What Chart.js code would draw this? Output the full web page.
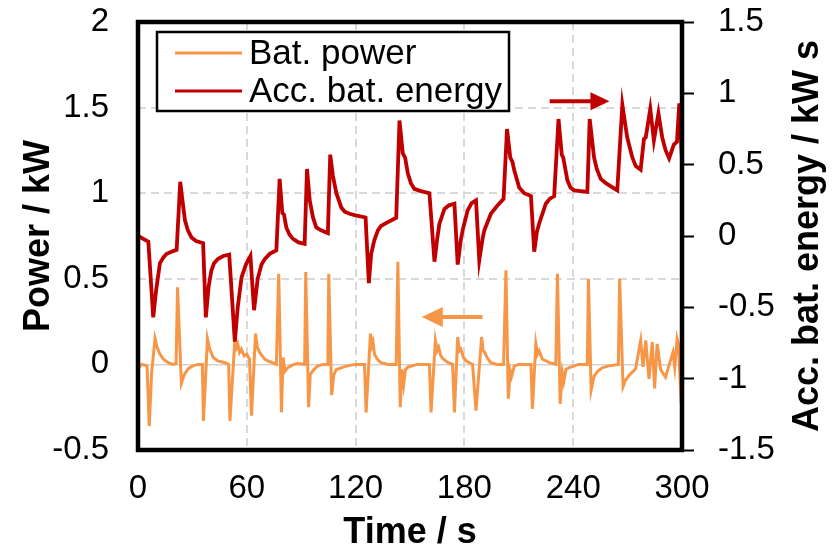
<!DOCTYPE html>
<html>
<head>
<meta charset="utf-8">
<script src="https://cdn.jsdelivr.net/npm/chart.js@4/dist/chart.umd.min.js"></script>
<style>
  html, body { margin: 0; padding: 0; background: #fff; }
  #wrap { width: 832px; height: 555px; position: relative; }
</style>
</head>
<body>
<div id="wrap"><canvas id="c"></canvas></div>
<script>
// ---- Data ----
const seriesNames = ['Bat. power', 'Acc. bat. energy'];
const xTickValues = [0, 60, 120, 180, 240, 300];

const powerTime = [0, 1, 2, 4, 5, 6.2, 7.5, 9.4, 10.5, 12.1, 14, 16.7, 19, 21, 21.8, 23.9, 25.5, 27.7, 30, 33, 35.5,
  36.1, 38.3, 39.5, 41.5, 44, 48, 50, 50.7, 53.4, 54.3, 55, 56, 57, 58.5, 60, 61.5, 62.6, 64.8, 65.8, 67.1, 68.5, 70, 71.7, 74, 76.3,
  77.6, 79.1, 80, 81, 82.5, 84, 86, 88, 91.9, 92.5, 94.1, 95, 95.6, 97, 99, 102, 104.7, 105.2, 106.8, 108, 109.4, 112, 115, 120, 124.9,
  125.8, 128.2, 129, 129.6, 130.4, 132, 134, 138, 142.4, 143.3, 144.6, 145.5, 146.5, 147.5, 149, 154, 160.7,
  161.6, 164, 165, 165.8, 167, 168.5, 171, 173.5, 174.5, 176.3, 177.2, 178, 179.5, 181, 184.5, 186.4, 189.5, 190.3, 191.2, 192.5, 194.5, 198, 201.6,
  202.9, 204.2, 205.3, 206, 207.5, 210, 216.7, 217.5, 219.4, 220.3, 221.2, 223, 227, 230.4, 231.3, 232.8, 234, 234.8, 236, 237.5, 243, 247.8,
  248.4, 249.9, 251.5, 253.5, 256, 259, 264.9, 265.6, 267.5, 269, 270.8, 274.4, 277.2, 278.5, 280, 281.8, 283.6, 284.9, 286.3, 288.2, 290.9,
  293.7, 295, 296, 297.3, 298, 299.2, 300];
const powerValues = [0, -0.01, 0, -0.005, -0.01, -0.36, -0.05, 0.15, 0.10, 0.06, 0.03, 0.01, 0, 0.005, 0.45, -0.11, -0.06, -0.025, -0.01, 0, 0,
  -0.33, 0.15, 0.09, 0.04, 0.02, 0.01, 0, -0.33, 0.14, 0.10, 0.12, 0.07, 0.09, 0.05, 0.06, 0.03, -0.30, 0.18, 0.10, 0.07, 0.05, 0.03, 0.02, 0.01, 0,
  0.53, -0.28, 0.04, -0.04, -0.02, -0.01, 0, 0.005, 0, 0.54, -0.25, -0.06, -0.05, -0.03, -0.01, 0, 0, 0.53, -0.18, -0.06, -0.03, -0.02, -0.01, 0, 0,
  -0.28, 0.18, 0.11, 0.13, 0.06, 0.03, 0.01, 0, 0, 0.60, -0.25, -0.03, -0.12, -0.03, -0.015, 0, 0,
  -0.28, 0.14, 0.08, 0.10, 0.05, 0.03, 0.01, 0, -0.28, 0.16, 0.08, 0.09, 0.04, 0.02, 0, -0.27, 0.16, 0.08, 0.07, 0.04, 0.01, 0, 0,
  0.55, -0.20, -0.04, -0.07, -0.01, 0, 0, -0.26, 0.12, 0.06, 0.08, 0.03, 0.01, 0, 0.53, -0.23, -0.05, -0.10, -0.03, -0.02, 0, 0,
  0.50, -0.15, -0.07, -0.04, -0.02, -0.01, 0, 0.50, -0.13, -0.09, -0.065, -0.025, 0.14, -0.015, 0.14, -0.085, 0.13, -0.14, 0.12, -0.03, -0.075,
  0.025, 0.07, -0.015, 0.15, 0.12, -0.15, -0.10];

const energyTime = [0, 5.7, 8.4, 10, 12.1, 14, 15.8, 18.5, 21.3, 23.3, 24.5, 25.9, 27.5, 29.5, 32, 35.9,
  37.4, 39, 40.5, 42, 44.2, 47, 50.3, 53.4, 55, 57.1, 59.5, 62, 64, 66, 68.1, 70, 72.6, 76.3,
  78.1, 79.6, 80.5, 81.8, 83.5, 85.5, 88.5, 91.9, 93.2, 94.7, 96.5, 98.3, 101, 104.7,
  106, 107.5, 109.4, 112.1, 114, 116.7, 120, 125.5, 127.3, 128.6, 130.3, 132.3, 134, 136, 139, 142.4,
  144.2, 146, 147.3, 148.8, 150.5, 152.4, 156, 160.7, 163.5, 165, 166.2, 169, 171.5, 174.5,
  176.3, 178, 179, 181.8, 184, 186.4, 188.2, 190, 191, 194.6, 198, 201.6,
  203.5, 205.3, 206.5, 207.5, 210.2, 213, 216.7, 218.5, 220, 221.2, 224.9, 227, 229.5,
  231.9, 233.7, 234.5, 236.8, 238.5, 240.5, 247.8, 249.1, 251.5, 253, 255.2, 258, 264.3,
  267.1, 269.8, 272.6, 274.5, 277.2, 279, 280, 282.5, 284.5, 287, 289.1, 291, 292.9, 295.5, 297.2, 298.5, 300];
const energyValues = [0, -0.04, -0.57, -0.38, -0.19, -0.15, -0.125, -0.11, -0.097, 0.38, 0.25, 0.11, 0.04, -0.01, -0.035, -0.05,
  -0.57, -0.35, -0.24, -0.19, -0.16, -0.14, -0.13, -0.74, -0.5, -0.29, -0.2, -0.14, -0.52, -0.3, -0.2, -0.16, -0.125, -0.10,
  0.40, 0.16, 0.15, 0.06, 0.01, -0.02, -0.045, -0.055, 0.47, 0.25, 0.13, 0.06, 0.04, 0.02,
  0.57, 0.42, 0.30, 0.20, 0.17, 0.156, 0.145, 0.13, -0.33, -0.125, -0.03, 0.04, 0.07, 0.085, 0.105, 0.128,
  0.81, 0.58, 0.55, 0.44, 0.37, 0.33, 0.315, 0.30, -0.18, -0.02, 0.085, 0.19, 0.215, 0.226,
  -0.20, -0.03, 0.04, 0.18, 0.23, 0.25, -0.17, -0.02, 0.04, 0.156, 0.21, 0.26,
  0.75, 0.55, 0.52, 0.46, 0.34, 0.30, 0.28, -0.11, 0.03, 0.086, 0.226, 0.26, 0.28,
  0.82, 0.57, 0.55, 0.39, 0.34, 0.32, 0.31, 0.82, 0.55, 0.47, 0.40, 0.37, 0.32,
  0.92, 0.69, 0.55, 0.49, 0.465, 0.68, 0.69, 0.89, 0.67, 0.86, 0.69, 0.60, 0.545, 0.64, 0.66, 0.93, 0.53];

// ---- Styling ----
const FONT = '"Liberation Sans", Arial, Helvetica, sans-serif';
const ORANGE = '#F79646';
const RED = '#C00000';
const GRID = '#d9d9d9';
const TICK_SIZE = 33;
const TITLE_SIZE = 36;

const toPts = (xs, ys) => xs.map((x, i) => ({ x: x, y: ys[i] }));
const fmt = (v) => String(Math.round(v * 10) / 10);
const noPad = (s) => { s.paddingTop = 0; s.paddingBottom = 0; s.paddingLeft = 0; s.paddingRight = 0; };

const framePlugin = {
  id: 'frame',
  afterDatasetsDraw(chart) {
    const { ctx, chartArea: a, scales } = chart;
    ctx.save();
    // frame
    ctx.strokeStyle = '#000';
    ctx.lineWidth = 4.5;
    ctx.strokeRect(a.left, a.top, a.right - a.left, a.bottom - a.top);

    // arrows (positioned in data units)
    const arrow = (x1, x2, y, color, headLen, headHalf) => {
      ctx.strokeStyle = color; ctx.fillStyle = color; ctx.lineWidth = 4;
      const dir = Math.sign(x2 - x1);
      ctx.beginPath(); ctx.moveTo(x1, y); ctx.lineTo(x2 - dir * headLen * 0.8, y); ctx.stroke();
      ctx.beginPath(); ctx.moveTo(x2, y); ctx.lineTo(x2 - dir * headLen, y - headHalf); ctx.lineTo(x2 - dir * headLen, y + headHalf); ctx.closePath(); ctx.fill();
    };
    arrow(scales.x.getPixelForValue(227), scales.x.getPixelForValue(260), scales.y1.getPixelForValue(0.945), RED, 19, 9);
    arrow(scales.x.getPixelForValue(190), scales.x.getPixelForValue(156.5), scales.y.getPixelForValue(0.277), ORANGE, 21, 10);

    // legend box
    const lx = a.left + 19, ly = a.top + 10, lw = 352, lh = 79;
    ctx.fillStyle = '#fff';
    ctx.fillRect(lx, ly, lw, lh);
    ctx.strokeStyle = '#000'; ctx.lineWidth = 2.5;
    ctx.strokeRect(lx, ly, lw, lh);
    ctx.font = '35px ' + FONT;
    ctx.textBaseline = 'middle';
    ctx.textAlign = 'left';
    chart.data.datasets.forEach((ds, i) => {
      const yy = ly + 21 + i * 38;
      ctx.strokeStyle = ds.borderColor; ctx.lineWidth = 3;
      ctx.beginPath(); ctx.moveTo(lx + 18, yy); ctx.lineTo(lx + 85, yy); ctx.stroke();
      ctx.fillStyle = '#000';
      ctx.fillText(ds.label, lx + 92, yy + 1);
    });

    // right axis title (reads bottom-to-top)
    ctx.save();
    ctx.translate(808, (a.top + a.bottom) / 2);
    ctx.rotate(-Math.PI / 2);
    ctx.font = 'bold ' + TITLE_SIZE + 'px ' + FONT;
    ctx.fillStyle = '#000';
    ctx.textAlign = 'center';
    ctx.textBaseline = 'middle';
    ctx.fillText('Acc. bat. energy / kW s', 0, 0);
    ctx.restore();
    ctx.restore();
  }
};

Chart.defaults.color = '#000';
Chart.defaults.font.family = FONT;

new Chart(document.getElementById('c'), {
  type: 'line',
  data: {
    datasets: [
      { label: seriesNames[0], data: toPts(powerTime, powerValues), yAxisID: 'y', borderColor: ORANGE, backgroundColor: ORANGE,
        borderWidth: 3, pointRadius: 0, tension: 0, order: 2 },
      { label: seriesNames[1], data: toPts(energyTime, energyValues), yAxisID: 'y1', borderColor: RED, backgroundColor: RED,
        borderWidth: 3.8, pointRadius: 0, tension: 0, order: 1 }
    ]
  },
  options: {
    responsive: true,
    maintainAspectRatio: false,
    devicePixelRatio: 1,
    animation: false,
    events: [],
    layout: { padding: { top: 22, left: 0, right: 0, bottom: 0 } },
    plugins: { legend: { display: false }, tooltip: { enabled: false } },
    scales: {
      x: {
        type: 'linear', min: 0, max: 300,
        afterBuildTicks: (s) => { s.ticks = xTickValues.map(v => ({ value: v })); },
        afterFit: (s) => { s.height = 105; noPad(s); },
        ticks: { font: { size: TICK_SIZE }, padding: 19, maxRotation: 0, autoSkip: false, callback: fmt },
        grid: { color: GRID, lineWidth: 2, drawTicks: false },
        border: { display: false, dash: [8, 5] },
        title: { display: true, text: 'Time / s', font: { size: TITLE_SIZE, weight: 'bold' }, padding: { top: 0, bottom: 0 } }
      },
      y: {
        position: 'left', min: -0.5, max: 2,
        ticks: { stepSize: 0.5, font: { size: TICK_SIZE }, padding: 29, callback: fmt },
        afterFit: (s) => { s.width = 138; noPad(s); },
        grid: {
          color: (c) => (c.tick && c.tick.value === 0) ? '#d4d4d4' : GRID,
          lineWidth: (c) => (c.tick && c.tick.value === 0) ? 1.5 : 2,
          drawTicks: false
        },
        border: { display: false, dash: (c) => (c.tick && c.tick.value === 0) ? [] : [8, 5] },
        title: { display: true, text: 'Power / kW', font: { size: TITLE_SIZE, weight: 'bold' }, padding: { top: 17, bottom: 0 } }
      },
      y1: {
        position: 'right', min: -1.5, max: 1.5,
        ticks: { stepSize: 0.5, font: { size: TICK_SIZE }, padding: 24, callback: fmt },
        afterFit: (s) => { s.width = 150; noPad(s); },
        grid: { drawOnChartArea: false, drawTicks: true, tickLength: 12, tickColor: '#000', tickWidth: 2 },
        border: { display: false }
      }
    }
  },
  plugins: [framePlugin]
});
</script>
</body>
</html>
